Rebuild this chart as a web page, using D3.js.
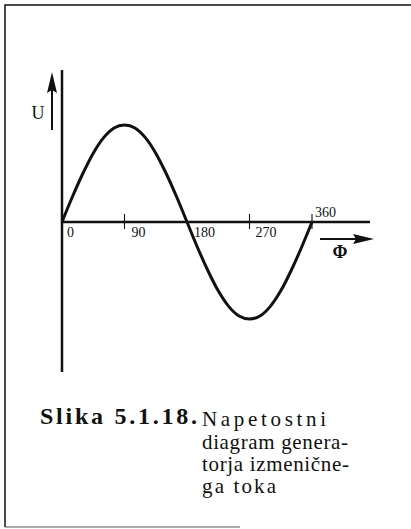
<!DOCTYPE html>
<html>
<head>
<meta charset="utf-8">
<script src="https://cdn.jsdelivr.net/npm/d3@7"></script>
<style>
  html, body { margin: 0; padding: 0; background: #fff; }
  svg { display: block; }
</style>
</head>
<body>
<script>
// Phase angle (degrees) and voltage (relative to peak) along one period
const phase = [0, 15, 30, 45, 60, 75, 90, 105, 120, 135, 150, 165, 180,
               195, 210, 225, 240, 255, 270, 285, 300, 315, 330, 345, 360];
const voltage = [0, 0.26, 0.5, 0.71, 0.87, 0.97, 1, 0.97, 0.87, 0.71, 0.5, 0.26, 0,
                 -0.26, -0.5, -0.71, -0.87, -0.97, -1, -0.97, -0.87, -0.71, -0.5, -0.26, 0];
const tickValues = [90, 270, 360];
const tickLabels = ["0", "90", "180", "270", "360"];
const captionTitle = "Slika 5.1.18.";
const captionLines = ["Napetostni", "diagram genera-", "torja izmenične-", "ga toka"];

const W = 411, H = 529;
const svg = d3.select("body").append("svg").attr("width", W).attr("height", H);
const ink = "#111";

// frame
svg.append("path").attr("d", "M5,527 V5 H411").attr("fill", "none")
  .attr("stroke", ink).attr("stroke-width", 1.5);
svg.append("line").attr("x1", 5).attr("x2", 240).attr("y1", 527).attr("y2", 527)
  .attr("stroke", "#555").attr("stroke-width", 1.2);

const x = d3.scaleLinear().domain([0, 360]).range([62, 312]);
const y = d3.scaleLinear().domain([-1, 1]).range([319, 125]);
const y0 = y(0);

// axes
svg.append("line").attr("x1", x(0)).attr("x2", x(0)).attr("y1", 70).attr("y2", 372)
  .attr("stroke", ink).attr("stroke-width", 2.5);
svg.append("line").attr("x1", x(0)).attr("x2", 370).attr("y1", y0).attr("y2", y0)
  .attr("stroke", ink).attr("stroke-width", 2.5);

// tick marks
svg.selectAll("line.tick").data(tickValues).join("line").attr("class", "tick")
  .attr("x1", d => x(d)).attr("x2", d => x(d))
  .attr("y1", y0 - 8).attr("y2", y0 + 7)
  .attr("stroke", ink).attr("stroke-width", 1.1);

// tick labels
const labelOffsets = { "0": [5, 15], "90": [7, 15], "180": [7, 15], "270": [6, 15], "360": [3, -5] };
svg.selectAll("text.tl").data(tickLabels).join("text").attr("class", "tl")
  .attr("x", d => x(+d) + labelOffsets[d][0])
  .attr("y", d => y0 + labelOffsets[d][1])
  .attr("font-family", "'Liberation Serif', serif").attr("font-size", 14)
  .attr("fill", ink).text(d => d);

// voltage curve
const line = d3.line().x((d, i) => x(phase[i])).y(d => y(d)).curve(d3.curveCardinal.tension(0));
svg.append("path").datum(voltage).attr("d", line)
  .attr("fill", "none").attr("stroke", ink).attr("stroke-width", 3);

// U arrow
svg.append("line").attr("x1", 52).attr("x2", 52).attr("y1", 88).attr("y2", 130)
  .attr("stroke", ink).attr("stroke-width", 2);
svg.append("path").attr("d", "M52,72 L47,93 L52,90 L57,93 Z").attr("fill", ink);
svg.append("text").attr("x", 38).attr("y", 119).attr("text-anchor", "middle")
  .attr("font-family", "'Liberation Serif', serif").attr("font-size", 18)
  .attr("fill", ink).text("U");

// Φ arrow
svg.append("line").attr("x1", 320).attr("x2", 358).attr("y1", 239).attr("y2", 239)
  .attr("stroke", ink).attr("stroke-width", 2);
svg.append("path").attr("d", "M374,239 L353,234 L356,239 L353,244 Z").attr("fill", ink);
svg.append("text").attr("x", 340).attr("y", 258).attr("text-anchor", "middle")
  .attr("font-family", "'Liberation Serif', serif").attr("font-size", 18)
  .attr("font-weight", "bold").attr("fill", ink).text("Φ");

// caption
svg.append("text").attr("x", 40).attr("y", 424)
  .attr("font-family", "'Liberation Serif', serif").attr("font-weight", "bold")
  .attr("font-size", 24).attr("fill", ink)
  .attr("textLength", 157).attr("lengthAdjust", "spacing").text(captionTitle);
const capW = [124, 146, 147, 74];
const capY = [426, 449, 471, 493];
captionLines.forEach((t, i) => {
  svg.append("text").attr("x", 202).attr("y", capY[i])
    .attr("font-family", "'Liberation Serif', serif").attr("font-size", 21)
    .attr("fill", ink).attr("textLength", capW[i]).attr("lengthAdjust", "spacing").text(t);
});
</script>
</body>
</html>
